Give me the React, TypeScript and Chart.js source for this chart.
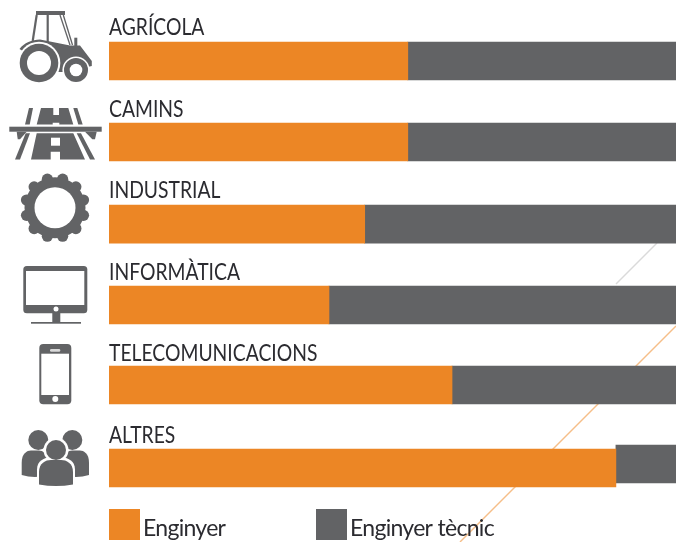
import React, { useEffect, useRef } from "react";
import { Chart, registerables } from "chart.js";

Chart.register(...registerables);

const categories = ["AGRÍCOLA", "CAMINS", "INDUSTRIAL", "INFORMÀTICA", "TELECOMUNICACIONS", "ALTRES"];
const enginyer = [52.7, 52.7, 45.1, 38.8, 60.5, 89.4];
const enginyerTecnic = [47.3, 47.3, 54.9, 61.2, 39.5, 10.6];
const seriesNames = ["Enginyer", "Enginyer tècnic"];

const ORANGE = "#EC8625";
const GREY = "#626365";
const FONT = 'Lato, sans-serif';
const LABEL_SQUEEZE = 0.84;

// small per-row optical shifts of the source artwork, in pixels
const rowShift = [0, -0.6, 0, -0.8, -2.4, -1];
const secondSeriesShift = [0, 0, 0, 0, 0, -4];

const nudgePlugin = {
  id: "nudge",
  afterDatasetsUpdate(chart: any) {
    chart.getDatasetMeta(0).data.forEach((el: any, i: number) => { el.y += rowShift[i]; });
    chart.getDatasetMeta(1).data.forEach((el: any, i: number) => { el.y += rowShift[i] + secondSeriesShift[i]; });
  },
};

// the reference's lettering is a narrow face: squeeze the axis's labels horizontally
const narrowLabelsPlugin = {
  id: "narrowLabels",
  beforeDraw(chart: any) {
    const s = chart.scales.y;
    if (s.__narrow) return;
    s.__narrow = true;
    const orig = s.drawLabels.bind(s);
    s.drawLabels = (area: any) => {
      const ctx = chart.ctx;
      const x0 = chart.chartArea.left;
      ctx.save();
      ctx.translate(x0, 0);
      ctx.scale(LABEL_SQUEEZE, 1);
      ctx.translate(-x0, 0);
      orig(area);
      ctx.restore();
    };
  },
};

function poly(ctx: CanvasRenderingContext2D, pts: number[][]) {
  ctx.beginPath();
  pts.forEach((p, i) => (i ? ctx.lineTo(p[0], p[1]) : ctx.moveTo(p[0], p[1])));
  ctx.closePath();
  ctx.fill();
}
function disc(ctx: CanvasRenderingContext2D, x: number, y: number, r: number, c: string) {
  ctx.fillStyle = c;
  ctx.beginPath();
  ctx.arc(x, y, r, 0, Math.PI * 2);
  ctx.fill();
}
function rrect(ctx: CanvasRenderingContext2D, x: number, y: number, w: number, h: number, r: number, c: string) {
  ctx.fillStyle = c;
  ctx.beginPath();
  ctx.roundRect(x, y, w, h, r);
  ctx.fill();
}

function drawTractor(ctx: CanvasRenderingContext2D) {
  ctx.fillStyle = GREY;
  ctx.fillRect(36, 11, 29, 4);
  ctx.strokeStyle = GREY;
  ctx.lineWidth = 2.2;
  [[36.7, 15, 32.7, 41], [47.7, 15, 47.7, 42]].forEach(([a, b, c, d]) => {
    ctx.beginPath(); ctx.moveTo(a, b); ctx.lineTo(c, d); ctx.stroke();
  });
  ctx.lineWidth = 1.3;
  [[60, 15, 70, 45], [63.3, 15, 72.5, 45]].forEach(([a, b, c, d]) => {
    ctx.beginPath(); ctx.moveTo(a, b); ctx.lineTo(c, d); ctx.stroke();
  });
  ctx.fillStyle = GREY;
  ctx.fillRect(74.3, 37.7, 3, 9);
  ctx.beginPath();
  ctx.moveTo(19.5, 49);
  ctx.bezierCurveTo(24, 43, 32, 39.5, 40, 39.5);
  ctx.lineTo(70, 45.5);
  ctx.lineTo(80, 45.5);
  ctx.lineTo(91.8, 61);
  ctx.lineTo(91.8, 66);
  ctx.lineTo(66, 72);
  ctx.lineTo(56, 72);
  ctx.closePath();
  ctx.fill();
  disc(ctx, 39, 63, 21.3, "#fff");
  disc(ctx, 39, 63, 19.3, GREY);
  disc(ctx, 39, 63, 12, "#fff");
  disc(ctx, 76, 70, 13.6, "#fff");
  disc(ctx, 76, 70, 12, GREY);
  disc(ctx, 76, 70, 6.3, "#fff");
}

function drawRoad(ctx: CanvasRenderingContext2D) {
  ctx.fillStyle = GREY;
  // upper carriageway
  poly(ctx, [[29, 108], [33, 108], [29.7, 124.5], [25, 124.5]]);
  poly(ctx, [[41, 108], [53.3, 108], [53.3, 115], [59, 115], [59, 108], [68.3, 108], [73.3, 124.5], [59.3, 124.5], [59.3, 122.7], [52.7, 122.7], [52.7, 124.5], [36.7, 124.5]]);
  poly(ctx, [[73.3, 108], [77.3, 108], [82.7, 124.5], [78.3, 124.5]]);
  // deck
  ctx.fillRect(9.3, 126.7, 92.4, 5);
  // supports
  poly(ctx, [[16.7, 131.7], [26.7, 131.7], [20, 139.3], [17.7, 139.3]]);
  poly(ctx, [[85, 131.7], [96.7, 131.7], [95, 139.3], [92.3, 139.3]]);
  // lower carriageway
  poly(ctx, [[25.7, 133.3], [30, 133.3], [20, 159.5], [15, 159.5]]);
  poly(ctx, [[36.7, 133.3], [73.3, 133.3], [85, 159.5], [60, 159.5], [60, 151.7], [50.7, 151.7], [50.7, 159.5], [31, 159.5]]);
  poly(ctx, [[76.7, 133.3], [81, 133.3], [95, 159.5], [90, 159.5]]);
  ctx.fillStyle = "#fff";
  ctx.fillRect(51, 137.7, 9, 8);
}

function drawGear(ctx: CanvasRenderingContext2D) {
  const cx = 55, cy = 207.7;
  for (let i = 0; i < 12; i++) {
    const a = ((i + 0.5) / 12) * Math.PI * 2;
    disc(ctx, cx + Math.cos(a) * 29.5, cy + Math.sin(a) * 29.5, 5.6, GREY);
  }
  disc(ctx, cx, cy, 30.5, GREY);
  disc(ctx, cx, cy, 20.5, "#fff");
}

function drawMonitor(ctx: CanvasRenderingContext2D) {
  rrect(ctx, 23.3, 266, 64, 47.3, 3.5, GREY);
  ctx.fillStyle = "#fff";
  ctx.fillRect(26, 271, 58.3, 34);
  disc(ctx, 56, 309, 2.5, "#fff");
  ctx.fillStyle = GREY;
  ctx.fillRect(52.3, 313, 8, 9.5);
  ctx.fillRect(31, 322, 50, 1.7);
}

function drawPhone(ctx: CanvasRenderingContext2D) {
  rrect(ctx, 39.3, 344, 32, 60.3, 4, GREY);
  ctx.fillStyle = "#fff";
  ctx.fillRect(41.3, 353.7, 27.7, 41.3);
  disc(ctx, 55.3, 399, 3, "#fff");
  rrect(ctx, 50, 349, 10.3, 2.7, 1.3, "#d9d9d9");
}

function drawPeople(ctx: CanvasRenderingContext2D) {
  disc(ctx, 38.3, 440, 10, GREY);
  disc(ctx, 72.3, 440, 10, GREY);
  const body = (x0: number, x1: number, top: number, bottom: number, sag: number) => {
    const w = x1 - x0;
    ctx.beginPath();
    ctx.moveTo(x0, bottom);
    ctx.lineTo(x0, top + 12);
    ctx.bezierCurveTo(x0, top + 3, x0 + w * 0.2, top, x0 + w * 0.35, top);
    ctx.lineTo(x1 - w * 0.35, top);
    ctx.bezierCurveTo(x1 - w * 0.2, top, x1, top + 3, x1, top + 12);
    ctx.lineTo(x1, bottom);
    ctx.quadraticCurveTo((x0 + x1) / 2, bottom + sag, x0, bottom);
    ctx.closePath();
    ctx.fill();
  };
  ctx.fillStyle = GREY;
  body(21.7, 48, 450.5, 475, 4);
  body(63, 89, 450.5, 475, 4);
  disc(ctx, 56, 450, 12.5, "#fff");
  ctx.fillStyle = "#fff";
  body(37, 75, 457.5, 486, 3);
  disc(ctx, 56, 450, 10, GREY);
  ctx.fillStyle = GREY;
  body(39, 73, 460, 484.5, 3);
}

const decorPlugin = {
  id: "decor",
  beforeDatasetsDraw(chart: any) {
    const ctx: CanvasRenderingContext2D = chart.ctx;
    ctx.save();
    ctx.lineWidth = 1.4;
    ctx.strokeStyle = "#DADADA";
    ctx.beginPath(); ctx.moveTo(657, 243); ctx.lineTo(616, 284); ctx.stroke();
    ctx.strokeStyle = "#F6BE88";
    ctx.beginPath(); ctx.moveTo(676, 326); ctx.lineTo(460, 542); ctx.stroke();
    ctx.restore();
  },
  afterDraw(chart: any) {
    const ctx: CanvasRenderingContext2D = chart.ctx;
    ctx.save();
    [drawTractor, drawRoad, drawGear, drawMonitor, drawPhone, drawPeople].forEach((f) => f(ctx));
    // legend
    const items = [{ x: 109 }, { x: 316 }];
    items.forEach((it, i) => {
      ctx.fillStyle = i === 0 ? ORANGE : GREY;
      ctx.fillRect(it.x, 509, 31, 31);
      ctx.fillStyle = "#2B2B30";
      ctx.font = `23px ${FONT}`;
      ctx.letterSpacing = "-0.7px";
      ctx.textAlign = "left";
      ctx.textBaseline = "alphabetic";
      ctx.fillText(seriesNames[i], it.x + 34, 536);
    });
    ctx.restore();
  },
};

export default function App() {
  const ref = useRef<HTMLCanvasElement | null>(null);
  useEffect(() => {
    const chart = new Chart(ref.current!, {
      type: "bar",
      data: {
        labels: categories,
        datasets: [
          { label: seriesNames[0], data: enginyer, backgroundColor: ORANGE, barThickness: 38, order: 1 },
          { label: seriesNames[1], data: enginyerTecnic, backgroundColor: GREY, barThickness: 38, order: 2 },
        ],
      },
      options: {
        indexAxis: "y",
        responsive: false,
        animation: false,
        layout: { padding: { left: 109, right: 0, top: 20.2, bottom: 32.2 } },
        plugins: { legend: { display: false }, tooltip: { enabled: false } },
        scales: {
          x: { stacked: true, min: 0, max: 100, display: false },
          y: {
            stacked: true,
            grid: { display: false, tickLength: 0 },
            border: { display: false },
            ticks: {
              mirror: true,
              padding: 0,
              labelOffset: -33.5,
              autoSkip: false,
              color: "#2B2B30",
              font: { family: FONT, size: 23 },
            },
          },
        },
      },
      plugins: [nudgePlugin, narrowLabelsPlugin, decorPlugin],
    } as any);
    return () => chart.destroy();
  }, []);
  return (
    <canvas
      ref={ref}
      width={676}
      height={542}
      style={{ position: "absolute", left: 0, top: 0, width: 676, height: 542, background: "#fff" }}
    />
  );
}
